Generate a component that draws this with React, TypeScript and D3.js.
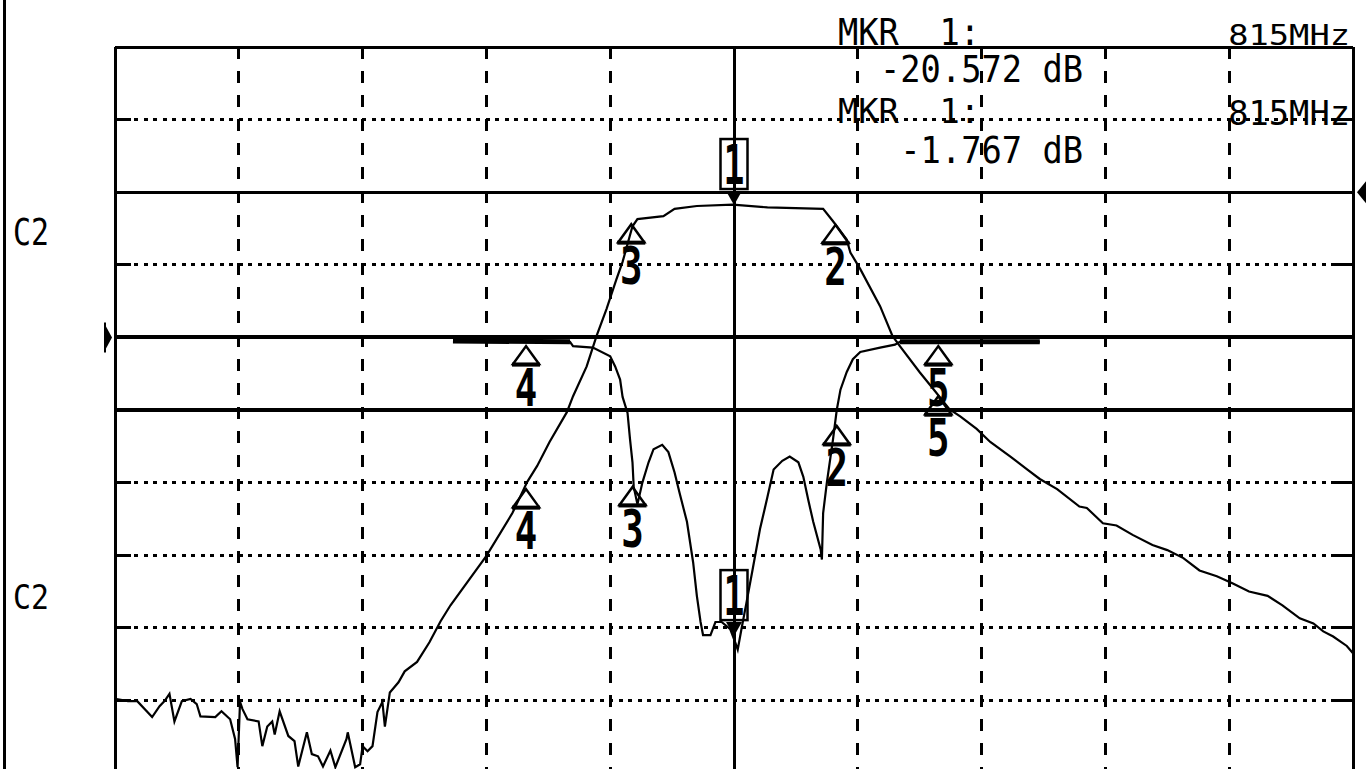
import React from 'react';
import * as d3 from 'd3';

const W = 1366;
const H = 769;

// Frequency axis (MHz) and display divisions
const freqStart = 765;
const freqStop = 865;
const xDivs = 10;
const yDivs = 10;

// Trace 1 (transmission) – 10 dB/div, reference 0 dB
const t1Freq = [
  765.0, 766.05, 766.8, 768.0, 768.6, 769.0, 769.4, 769.8, 770.4, 771.1, 771.6, 771.9, 773.1, 773.6, 774.3, 774.7,
  774.9, 775.1, 775.3, 775.7, 776.6, 776.9, 777.3, 777.7, 777.9, 778.3, 779.0, 779.5, 779.8, 780.5, 780.9, 781.4,
  781.8, 782.4, 782.8, 783.7, 783.8, 784.4, 784.8, 785.0, 785.4, 785.8, 786.2, 786.6, 786.8, 787.2, 787.9, 788.4,
  789.4, 790.4, 791.3, 792.1, 795.0, 797.1, 798.3, 799.1, 800.1, 801.5, 802.0, 803.1, 803.9, 804.7, 805.5, 806.0,
  806.8, 807.2, 809.3, 810.2, 812.0, 814.9, 817.7, 822.2, 823.0, 824.1, 824.4, 825.2, 826.8, 827.8, 828.4, 830.0,
  831.1, 832.4, 833.3, 834.6, 835.7, 837.3, 838.7, 839.7, 841.1, 842.9, 843.5, 844.8, 845.9, 847.2, 848.8, 850.0,
  851.3, 852.6, 854.0, 855.3, 856.6, 858.1, 859.3, 860.7, 861.8, 862.6, 863.4, 864.5, 865.0,
];
const t1dB = [
  -69.8, -70.1, -70.1, -72.3, -70.8, -70.1, -69.1, -72.9, -70.1, -69.8, -70.5, -72.2, -72.3, -71.5, -72.6, -75.3,
  -79.2, -70.2, -71.2, -72.6, -72.9, -76.3, -73.6, -72.9, -74.7, -71.5, -74.9, -75.6, -79.1, -74.4, -77.4, -77.7,
  -79.1, -76.9, -79.2, -75.3, -74.4, -79.2, -78.8, -76.3, -77.0, -76.3, -71.6, -70.2, -73.6, -68.9, -67.5, -66.0,
  -64.7, -62.0, -59.1, -56.9, -50.1, -44.2, -39.9, -37.7, -34.4, -30.3, -28.1, -24.0, -19.8, -16.1, -12.0, -9.6,
  -4.7, -3.7, -3.3, -2.3, -1.9, -1.7, -2.1, -2.3, -4.0, -6.5, -8.3, -10.6, -15.7, -19.8, -21.2, -24.8,
  -27.1, -29.9, -30.9, -32.6, -34.4, -36.4, -38.2, -39.5, -40.9, -43.3, -43.5, -45.6, -45.9, -47.2, -48.6, -49.3,
  -50.4, -52.1, -52.9, -53.9, -55.0, -55.6, -56.9, -58.7, -59.4, -60.5, -61.2, -62.5, -63.5,
];

// Trace 2 (return loss) – 5 dB/div, reference 0 dB
const t2Freq = [
  792.3, 801.75, 802.0, 803.6, 805.0, 805.4, 805.8, 806.0, 806.4, 806.6, 806.8, 806.9, 807.2, 807.6, 808.1, 808.5,
  809.2, 809.7, 810.2, 810.6, 811.2, 811.7, 812.0, 812.3, 812.5, 813.1, 813.5, 814.0, 814.7, 815.1, 815.3, 815.6,
  816.0, 816.5, 817.1, 817.7, 818.2, 818.9, 819.5, 820.2, 820.6, 821.0, 821.4, 822.0, 822.1, 822.2, 822.5, 823.0,
  823.3, 823.6, 824.1, 824.6, 825.2, 826.8, 828.0, 828.4, 839.7,
];
const t2dB = [
  -0.25, -0.3, -0.6, -0.7, -1.3, -2.0, -2.9, -4.1, -5.2, -7.0, -8.6, -10.3, -11.5, -10.0, -8.6, -7.7,
  -7.4, -7.9, -9.3, -10.7, -12.7, -15.5, -17.8, -19.6, -20.5, -20.5, -19.6, -19.6, -20.1, -21.0, -21.5, -20.1,
  -18.3, -16.0, -13.2, -11.0, -9.1, -8.5, -8.2, -8.6, -9.6, -11.2, -12.7, -14.6, -15.3, -12.1, -10.0, -7.0,
  -5.0, -3.6, -2.4, -1.5, -1.0, -0.7, -0.5, -0.3, -0.3,
];

// Markers
const markerNums = [1, 2, 3, 4, 5];
const m1Freq = [815, 823.2, 806.7, 798.2, 831.5];
const m1dB = [-1.767, -4.5, -4.4, -40.9, -28.1];
const m2Freq = [815, 823.3, 806.8, 798.2, 831.5];
const m2dB = [-20.572, -6.1, -10.3, -0.6, -0.6];

// Readout texts
const readoutLeft = ['MKR\u00a0\u00a01:', '-20.572\u00a0dB', 'MKR\u00a0\u00a01:', '-1.767\u00a0dB'];
const readoutRight = ['815MHz', '', '815MHz', ''];
const channelLabels = ['C2', 'C2'];

const x = d3.scaleLinear().domain([freqStart, freqStop]).range([115, 1353]);
const y1 = d3.scaleLinear().domain([20, -80]).range([47, 773]);
const y2 = d3.scaleLinear().domain([20, -30]).range([47, 773]);

const FONT = "'DejaVu Sans Mono', monospace";
const CHAR_W = 20.3;

function Marker({ cx, cy, n }: { cx: number; cy: number; n: number }) {
  if (n === 1) {
    return (
      <g>
        <rect x={cx - 13.5} y={cy - 66} width={27} height={50} fill="none" stroke="#000" strokeWidth={2.5} />
        <text
          transform={`translate(${cx},${cy - 21}) scale(0.62,1)`}
          textAnchor="middle"
          fontFamily={FONT}
          fontWeight="bold"
          fontSize={56}
          fill="#000"
        >
          1
        </text>
        <polygon points={`${cx - 8},${cy - 14} ${cx + 8},${cy - 14} ${cx},${cy}`} fill="#000" />
      </g>
    );
  }
  return (
    <g>
      <polygon
        points={`${cx},${cy} ${cx - 13},${cy + 18} ${cx + 13},${cy + 18}`}
        fill="none"
        stroke="#000"
        strokeWidth={2.5}
      />
      <line x1={cx - 14} x2={cx + 14} y1={cy + 18.5} y2={cy + 18.5} stroke="#000" strokeWidth={4} />
      <text
        transform={`translate(${cx},${cy + 60}) scale(0.72,1)`}
        textAnchor="middle"
        fontFamily={FONT}
        fontWeight="bold"
        fontSize={52}
        fill="#000"
      >
        {n}
      </text>
    </g>
  );
}

export default function App() {
  const t1 = t1Freq.map((f, i) => [f, t1dB[i]] as [number, number]);
  const t2 = t2Freq.map((f, i) => [f, t2dB[i]] as [number, number]);
  const line1 = d3.line<[number, number]>().x((d) => x(d[0])).y((d) => y1(d[1]));
  const line2 = d3.line<[number, number]>().x((d) => x(d[0])).y((d) => y2(d[1]));

  const xTicks = d3.range(xDivs + 1).map((i) => freqStart + (i * (freqStop - freqStart)) / xDivs);
  const yTicks = d3.range(yDivs + 1).map((i) => 20 - (i * 100) / yDivs);
  const left = x(freqStart);
  const right = x(freqStop);
  const top = y1(20);
  const bottom = y1(-80);

  const solidRows = new Set([0, 2, 4, 5, 10]);

  return (
    <svg
      width={W}
      height={H}
      viewBox={`0 0 ${W} ${H}`}
      style={{ position: 'absolute', left: 0, top: 0, background: '#fff' }}
    >
      <rect x={0} y={0} width={W} height={H} fill="#fff" />
      {/* outer left border */}
      <line x1={4.5} x2={4.5} y1={0} y2={H} stroke="#000" strokeWidth={3} shapeRendering="crispEdges" />

      <g shapeRendering="crispEdges">
        {/* vertical grid */}
        {xTicks.map((f, i) => {
          const solid = i === 0 || i === xDivs || i === xDivs / 2;
          return (
            <line
              key={'v' + i}
              x1={x(f)}
              x2={x(f)}
              y1={top}
              y2={bottom}
              stroke="#000"
              strokeWidth={3}
              strokeDasharray={solid ? undefined : '12 12'}
            />
          );
        })}

        {/* horizontal grid */}
        {yTicks.map((v, i) => {
          const yy = y1(v);
          const solid = solidRows.has(i);
          const w = i === 4 || i === 5 ? 4 : 3;
          return (
            <g key={'h' + i}>
              <line
                x1={left}
                x2={right}
                y1={yy}
                y2={yy}
                stroke="#000"
                strokeWidth={w}
                strokeDasharray={solid ? undefined : '4 5.5'}
              />
              {!solid && (
                <>
                  <line x1={left} x2={left + 16} y1={yy} y2={yy} stroke="#000" strokeWidth={3} />
                  <line x1={right - 18} x2={right} y1={yy} y2={yy} stroke="#000" strokeWidth={3} />
                </>
              )}
            </g>
          );
        })}
      </g>

      {/* reference level pointers */}
      <line x1={105} x2={105} y1={y2(0) - 15} y2={y2(0) + 15} stroke="#000" strokeWidth={2} />
      <polygon points={`${106},${y2(0) - 11} ${112},${y2(0)} ${106},${y2(0) + 11}`} fill="#000" />
      <polygon points={`${1366},${y1(0) - 11} ${1357},${y1(0)} ${1366},${y1(0) + 11}`} fill="#000" />

      {/* traces */}
      <path d={line1(t1) || ''} fill="none" stroke="#000" strokeWidth={2.2} strokeLinejoin="miter" />
      <path d={line2(t2) || ''} fill="none" stroke="#000" strokeWidth={2.2} />
      <path d={line2(t2.slice(0, 2)) || ''} fill="none" stroke="#000" strokeWidth={5} />
      <path d={line2(t2.slice(t2.length - 2)) || ''} fill="none" stroke="#000" strokeWidth={5} />

      {/* markers */}
      {markerNums.map((n, i) => (
        <Marker key={'m1' + n} cx={x(m1Freq[i])} cy={y1(m1dB[i])} n={n} />
      ))}
      {markerNums.map((n, i) => (
        <Marker key={'m2' + n} cx={x(m2Freq[i])} cy={y2(m2dB[i])} n={n} />
      ))}

      {/* channel labels */}
      <text x={13} y={245} fontFamily={FONT} fontSize={37} textLength={36} lengthAdjust="spacingAndGlyphs">
        {channelLabels[0]}
      </text>
      <text x={13} y={609} fontFamily={FONT} fontSize={34} textLength={36} lengthAdjust="spacingAndGlyphs">
        {channelLabels[1]}
      </text>

      {/* marker readouts */}
      <text x={838} y={45} fontFamily={FONT} fontSize={38} textLength={readoutLeft[0].length * CHAR_W} lengthAdjust="spacingAndGlyphs">
        {readoutLeft[0]}
      </text>
      <text x={1350} y={45} textAnchor="end" fontFamily={FONT} fontSize={28} textLength={readoutRight[0].length * CHAR_W} lengthAdjust="spacingAndGlyphs">
        {readoutRight[0]}
      </text>
      <text x={1083} y={82} textAnchor="end" fontFamily={FONT} fontSize={37} textLength={readoutLeft[1].length * CHAR_W} lengthAdjust="spacingAndGlyphs">
        {readoutLeft[1]}
      </text>
      <text x={838} y={123} fontFamily={FONT} fontSize={34} textLength={readoutLeft[2].length * CHAR_W} lengthAdjust="spacingAndGlyphs">
        {readoutLeft[2]}
      </text>
      <text x={1350} y={125} textAnchor="end" fontFamily={FONT} fontSize={34} textLength={readoutRight[2].length * CHAR_W} lengthAdjust="spacingAndGlyphs">
        {readoutRight[2]}
      </text>
      <text x={1083} y={163} textAnchor="end" fontFamily={FONT} fontSize={38} textLength={readoutLeft[3].length * CHAR_W} lengthAdjust="spacingAndGlyphs">
        {readoutLeft[3]}
      </text>
    </svg>
  );
}
